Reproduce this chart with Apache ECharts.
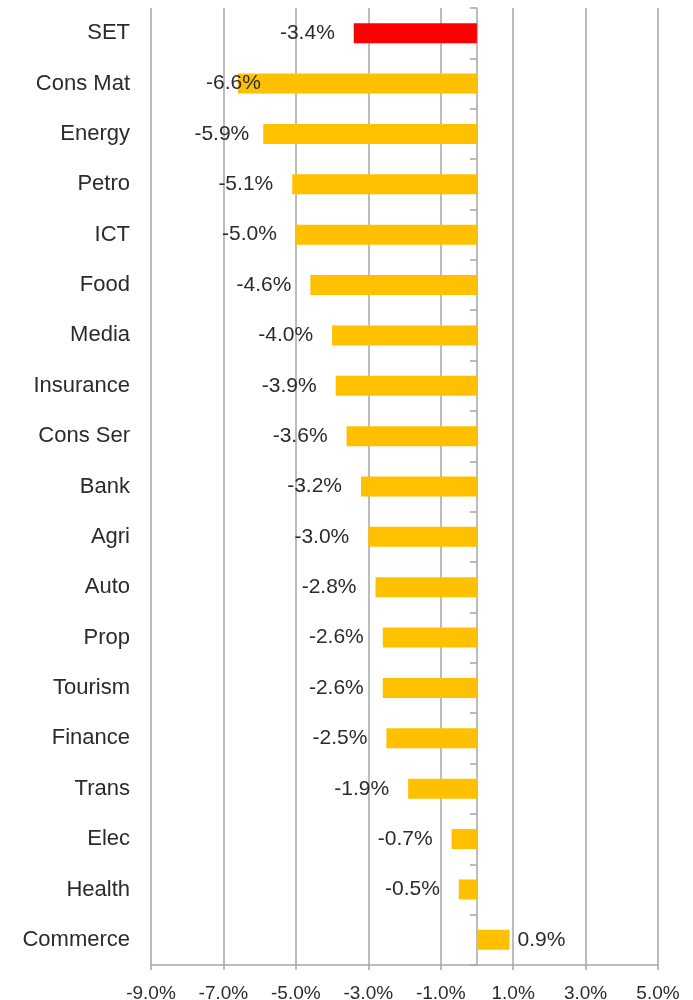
<!DOCTYPE html>
<html>
<head>
<meta charset="utf-8">
<script src="https://cdn.jsdelivr.net/npm/echarts@6/dist/echarts.min.js"></script>
<style>
  html, body { margin: 0; padding: 0; background: #fff; }
  #chart { width: 693px; height: 1000px; }
</style>
</head>
<body>
<div id="chart"></div>
<script>
  // sectors, top to bottom
  var sectors = ['SET', 'Cons Mat', 'Energy', 'Petro', 'ICT', 'Food', 'Media', 'Insurance', 'Cons Ser',
    'Bank', 'Agri', 'Auto', 'Prop', 'Tourism', 'Finance', 'Trans', 'Elec', 'Health', 'Commerce']
  var changes = [-3.4, -6.6, -5.9, -5.1, -5.0, -4.6, -4.0, -3.9, -3.6,
    -3.2, -3.0, -2.8, -2.6, -2.6, -2.5, -1.9, -0.7, -0.5, 0.9]
  var xTicks = [-9, -7, -5, -3, -1, 1, 3, 5]

  var gray = '#a6a6a6'
  var txt = '#2b2b2b'
  var font = 'Liberation Sans, Arial, sans-serif'

  // build bar items (SET highlighted, a few labels nudged like the original)
  var items = changes.map(function (v, i) {
    var lbl = v < 0 ? { position: 'left', distance: 19 } : { position: 'right', distance: 8 }
    if (sectors[i] === 'Cons Mat') lbl.offset = [42, 0]
    if (sectors[i] === 'Energy') lbl.offset = [5, 0]
    return {
      value: v,
      itemStyle: { color: i === 0 ? '#ff0000' : '#ffc000' },
      label: lbl
    }
  })

  var chart = echarts.init(document.getElementById('chart'))
  chart.setOption({
    animation: false,
    grid: { left: 151, right: 35, top: 8, bottom: 35, containLabel: false, outerBoundsMode: 'none' },
    xAxis: {
      type: 'value',
      min: xTicks[0],
      max: xTicks[xTicks.length - 1],
      interval: 2,
      axisLine: { show: true, lineStyle: { color: gray, width: 1.5 } },
      axisTick: { show: true, length: 5, lineStyle: { color: gray, width: 1.5 } },
      splitLine: { show: true, lineStyle: { color: gray, width: 1.5 } },
      axisLabel: {
        margin: 19,
        color: txt,
        fontSize: 19,
        fontFamily: font,
        formatter: function (v) { return v.toFixed(1) + '%' }
      }
    },
    yAxis: [
      {
        type: 'category',
        inverse: true,
        data: sectors,
        axisLine: { show: false, onZero: false },
        axisTick: { show: false },
        axisLabel: { margin: 21, color: txt, fontSize: 22, fontFamily: font }
      },
      {
        // zero line with category ticks
        type: 'category',
        inverse: true,
        data: sectors,
        position: 'left',
        axisLine: { show: true, onZero: true, lineStyle: { color: gray, width: 1.5 } },
        axisTick: { show: true, length: 7, lineStyle: { color: gray, width: 1.5 } },
        axisLabel: { show: false }
      }
    ],
    series: [
      {
        type: 'bar',
        yAxisIndex: 0,
        barWidth: 20,
        data: items,
        label: {
          show: true,
          color: txt,
          fontSize: 21,
          fontFamily: font,
          formatter: function (p) { return p.value.toFixed(1) + '%' }
        }
      }
    ]
  })
</script>
</body>
</html>
